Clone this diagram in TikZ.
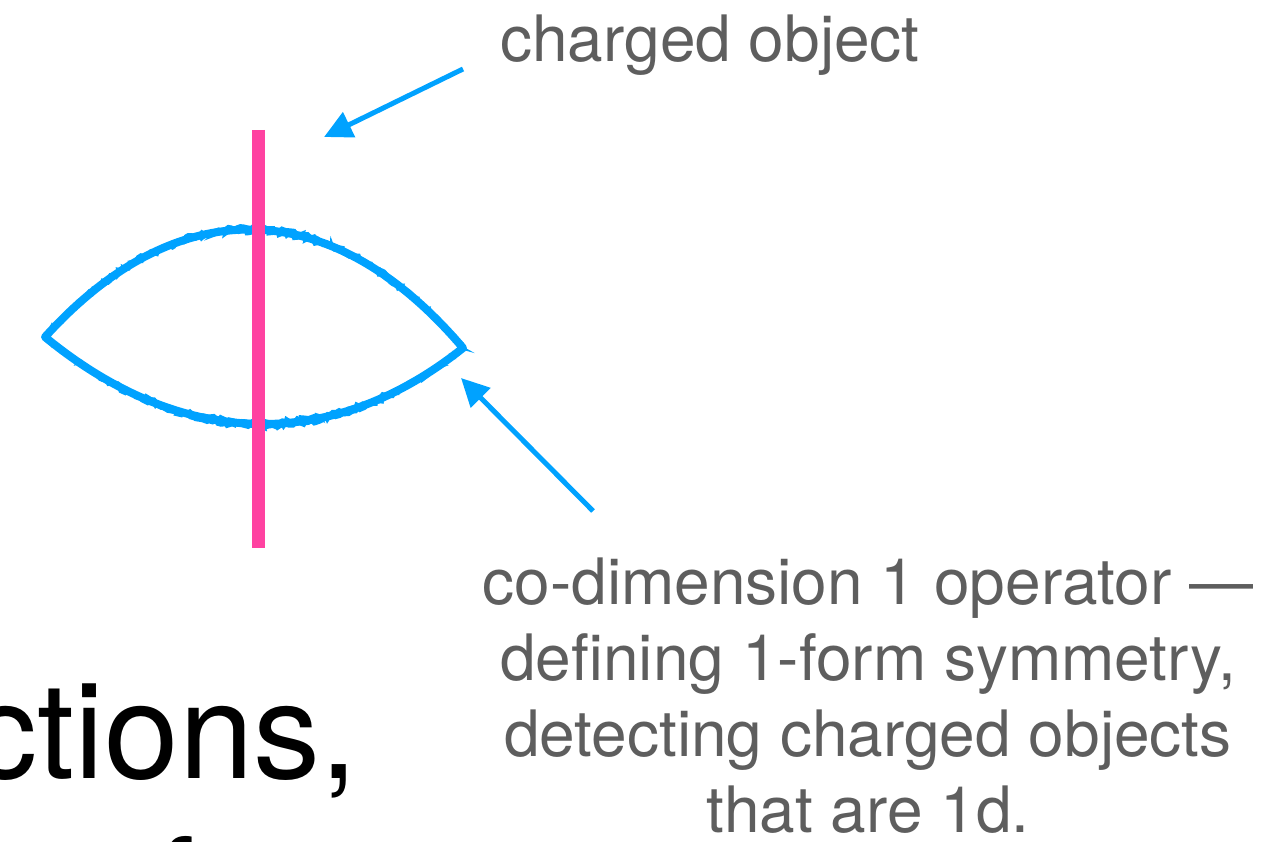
\documentclass[tikz,border=0pt]{standalone}
\usepackage{fontspec}
\setmainfont{TeX Gyre Heros}
\usetikzlibrary{arrows.meta,decorations.pathmorphing}
\definecolor{keyblue}{HTML}{00A2FF}
\definecolor{keypink}{HTML}{FF42A1}
\definecolor{notegray}{HTML}{5E5E5E}
\tikzset{
  note/.style={text=notegray,font=\fontsize{64}{76}\selectfont,inner sep=0pt},
  bignote/.style={text=black,font=\fontsize{134}{160}\selectfont,inner sep=0pt},
  pointer/.style={keyblue,line width=5pt,-{Triangle[length=28pt,width=27pt]}},
  lensline/.style={keyblue,line width=8pt,line join=round},
  rough/.style={keyblue,line width=3pt,decorate,
    decoration={random steps,segment length=3pt,amplitude=2.2pt}},
}
\begin{document}
\begin{tikzpicture}[x=1pt,y=-1pt]
  \useasboundingbox (0,0) rectangle (1286,842);
  \coordinate (lensleft) at (45,337);
  \coordinate (lensright) at (463,348);
  \coordinate (chargetop) at (258,130);
  \coordinate (chargebottom) at (258,548);
  \coordinate (chargetail) at (463,69);
  \coordinate (chargetip) at (324,137);
  \coordinate (optail) at (593,511);
  \coordinate (optip) at (461,378);
  \draw[lensline] (lensleft) .. controls (180,188) and (334,196) .. (lensright)
    .. controls (330,454) and (180,448) .. (lensleft) -- cycle;
  \pgfmathsetseed{7}
  \draw[rough] (lensleft) .. controls (180,185) and (334,193) .. (lensright)
    .. controls (330,458) and (180,452) .. (lensleft);
  \draw[rough] (lensleft) .. controls (180,191) and (334,199) .. (lensright)
    .. controls (330,450) and (180,445) .. (lensleft);
  \draw[keypink,line width=13pt] (chargetop) -- (chargebottom);
  \draw[pointer] (chargetail) -- (chargetip);
  \draw[pointer] (optail) -- (optip);
  \node[note,anchor=base] (chargelabel) at (710,62) {charged object};
  \node[note,anchor=north,align=center] (oplabel) at (868,558)
    {co-dimension 1 operator —\\ defining 1-form symmetry,\\
     detecting charged objects\\ that are 1d.};
  \node[bignote,anchor=base east] (bigtext) at (358,778) {ctions,};
  \node[bignote,anchor=base west] (bigtail) at (157,934) {f};
\end{tikzpicture}
\end{document}
